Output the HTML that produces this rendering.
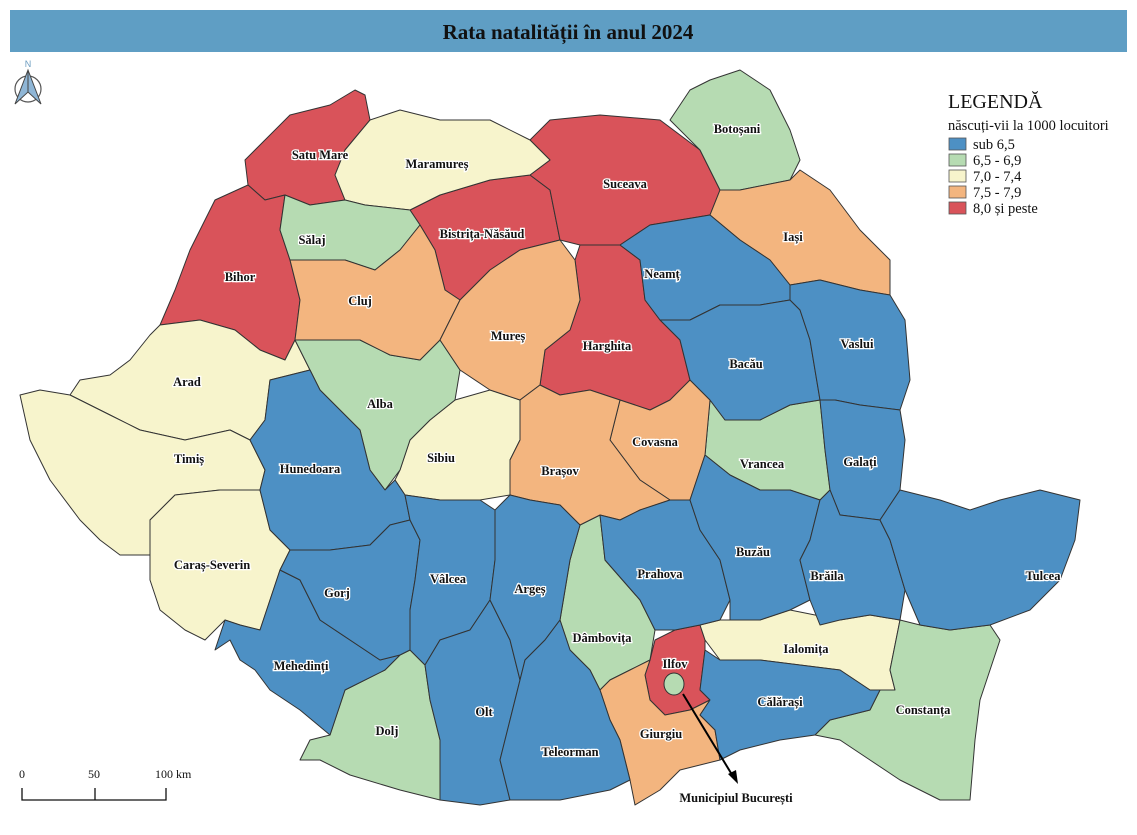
<!DOCTYPE html>
<html><head><meta charset="utf-8"><style>
body{margin:0;background:#fff;width:1137px;height:830px;overflow:hidden;font-family:"Liberation Serif",serif}
</style></head><body>
<svg width="1137" height="830" viewBox="0 0 1137 830" xmlns="http://www.w3.org/2000/svg" font-family="Liberation Serif, serif">
<rect x="10" y="10" width="1117" height="42" fill="#5f9ec4"/>
<text x="568" y="39" text-anchor="middle" font-size="21" font-weight="bold" fill="#111">Rata natalității în anul 2024</text>
<g stroke="#333" stroke-width="1" stroke-linejoin="round">
<g fill="#d9535a">
<polygon points="245,160 290,115 330,105 355,90 365,95 370,120 345,150 335,175 345,200 310,205 285,195 265,200 248,185"/>
<polygon points="248,185 265,200 285,195 280,230 290,260 300,300 295,340 285,360 260,350 235,330 200,320 160,325 175,290 190,250 215,200"/>
<polygon points="410,210 440,195 490,180 530,175 550,190 560,240 520,250 490,270 460,300 445,290 435,250 420,225"/>
<polygon points="530,140 550,120 600,115 660,120 700,150 720,190 710,215 650,225 620,245 580,245 560,240 550,190 530,175 550,160"/>
<polygon points="575,260 580,245 620,245 640,260 645,300 660,320 680,340 690,380 670,400 650,410 620,400 590,390 560,395 540,385 545,350 570,330 580,300"/>
<polygon points="655,640 675,630 700,625 705,640 705,650 700,690 710,700 690,710 665,715 650,700 645,675 650,660"/>
</g>
<g fill="#f7f4cc">
<polygon points="370,120 400,110 440,120 490,120 530,140 550,160 530,175 490,180 440,195 410,210 365,205 345,200 335,175 345,150"/>
<polygon points="455,400 490,390 520,400 520,440 510,460 510,495 480,500 440,500 405,495 395,480 400,470 410,440 430,420"/>
<polygon points="160,325 200,320 235,330 260,350 285,360 295,340 310,370 270,380 265,420 250,440 230,430 185,440 140,430 110,415 70,395 80,380 110,375 130,360 150,335"/>
<polygon points="20,395 40,390 70,395 110,415 140,430 185,440 230,430 250,440 265,470 260,490 220,490 175,495 150,520 150,555 120,555 100,540 80,520 50,480 30,440"/>
<polygon points="150,520 175,495 220,490 260,490 265,510 270,530 280,540 290,550 280,570 270,600 260,630 240,625 225,620 205,640 185,630 160,610 150,580"/>
<polygon points="700,625 720,620 760,620 790,610 840,620 870,615 900,620 890,670 895,690 870,690 840,670 800,665 760,660 720,660 705,640"/>
</g>
<g fill="#b6dbb2">
<polygon points="285,195 310,205 345,200 365,205 410,210 420,225 400,250 375,270 345,260 300,260 290,260 280,230"/>
<polygon points="670,120 690,90 710,80 740,70 770,90 790,130 800,160 790,180 740,190 720,190 700,150"/>
<polygon points="710,400 725,420 760,420 790,405 820,400 825,450 830,490 820,500 790,490 760,490 730,475 705,455"/>
<polygon points="295,340 335,340 360,340 390,355 420,360 440,340 460,370 455,400 430,420 410,440 400,470 385,490 370,470 360,430 340,410 320,390 310,370"/>
<polygon points="330,735 345,690 385,670 400,655 410,650 425,665 430,700 440,740 440,800 420,795 400,790 350,775 320,760 300,760 310,740"/>
<polygon points="580,525 600,515 605,560 640,600 655,630 650,660 630,670 610,680 600,690 590,670 570,650 560,620 565,590 570,560"/>
<polygon points="900,620 920,625 950,630 990,625 1000,640 990,670 980,700 975,740 970,800 940,800 900,780 870,760 840,740 815,735 830,720 870,710 880,690 895,690 890,670"/>
<ellipse cx="674" cy="684" rx="10" ry="11"/>
</g>
<g fill="#f3b57f">
<polygon points="720,190 740,190 790,180 800,170 830,190 860,230 890,260 890,295 860,290 820,280 790,285 770,260 740,240 710,215"/>
<polygon points="300,260 345,260 375,270 400,250 420,225 435,250 445,290 460,300 440,340 420,360 390,355 360,340 335,340 295,340 300,300 290,260"/>
<polygon points="460,300 490,270 520,250 560,240 575,260 580,300 570,330 545,350 540,385 520,400 490,390 460,370 440,340"/>
<polygon points="650,410 670,400 690,380 710,400 705,455 700,470 690,500 670,500 640,480 610,440 620,400"/>
<polygon points="520,400 540,385 560,395 590,390 620,400 610,440 640,480 670,500 640,510 620,520 600,515 580,525 560,505 530,500 510,495 510,460 520,440"/>
<polygon points="610,680 630,670 650,660 645,675 650,700 665,715 690,710 710,700 700,715 715,730 720,760 680,770 660,790 635,805 630,780 620,740 610,720 600,690"/>
</g>
<g fill="#4d90c4">
<polygon points="620,245 650,225 710,215 740,240 770,260 790,285 790,300 760,305 720,305 690,320 660,320 645,300 640,260"/>
<polygon points="660,320 690,320 720,305 760,305 790,300 800,310 810,340 820,400 790,405 760,420 725,420 710,400 690,380 680,340"/>
<polygon points="790,285 820,280 860,290 890,295 905,320 910,380 900,410 860,405 835,400 820,400 810,340 800,310 790,300"/>
<polygon points="820,400 835,400 860,405 900,410 905,440 900,490 880,520 840,515 830,490 825,450"/>
<polygon points="270,380 310,370 320,390 340,410 360,430 370,470 385,490 395,480 405,495 410,520 390,525 370,545 330,550 290,550 280,540 270,530 265,510 260,490 265,470 250,440 265,420"/>
<polygon points="260,630 270,600 280,570 300,580 320,620 350,640 380,660 400,655 385,670 345,690 330,735 300,710 270,690 255,670 240,660 230,640 215,650 225,620 240,625"/>
<polygon points="290,550 330,550 370,545 390,525 410,520 420,540 415,580 410,610 410,650 400,655 380,660 350,640 320,620 300,580 280,570"/>
<polygon points="410,520 405,495 440,500 480,500 495,510 495,560 490,600 470,630 440,640 425,665 410,650 410,610 415,580 420,540"/>
<polygon points="425,665 440,640 470,630 490,600 510,640 520,680 510,720 500,760 510,800 480,805 440,800 440,740 430,700"/>
<polygon points="495,510 510,495 530,500 560,505 580,525 570,560 565,590 560,620 545,640 525,660 520,680 510,640 490,600 495,560"/>
<polygon points="520,680 525,660 545,640 560,620 570,650 590,670 600,690 610,720 620,740 630,780 610,790 560,800 510,800 500,760 510,720"/>
<polygon points="600,515 620,520 640,510 670,500 690,500 700,530 720,560 730,600 720,620 700,625 675,630 655,630 640,600 605,560"/>
<polygon points="690,500 700,470 705,455 730,475 760,490 790,490 820,500 810,540 800,560 810,600 790,610 760,620 730,620 730,600 720,560 700,530"/>
<polygon points="820,500 830,490 840,515 880,520 890,540 905,590 900,620 870,615 840,620 820,625 810,600 800,560 810,540"/>
<polygon points="880,520 900,490 940,500 970,510 1000,500 1040,490 1080,500 1075,540 1060,580 1030,610 990,625 950,630 920,625 905,590 890,540"/>
<polygon points="705,650 720,660 760,660 800,665 840,670 870,690 880,690 870,710 830,720 815,735 780,740 740,750 720,760 715,730 700,715 710,700 700,690"/>
</g>
</g>
<g font-size="12.5" font-weight="bold" fill="#111" text-anchor="middle" stroke="#fff" stroke-width="2.5" paint-order="stroke">
<text x="320" y="159">Satu Mare</text><text x="437" y="168">Maramureș</text><text x="737" y="133">Botoșani</text>
<text x="625" y="188">Suceava</text><text x="312" y="244">Sălaj</text><text x="482" y="238">Bistrița-Năsăud</text>
<text x="793" y="241">Iași</text><text x="240" y="281">Bihor</text><text x="360" y="305">Cluj</text>
<text x="662" y="278">Neamț</text><text x="508" y="340">Mureș</text><text x="607" y="350">Harghita</text>
<text x="857" y="348">Vaslui</text><text x="746" y="368">Bacău</text><text x="187" y="386">Arad</text>
<text x="380" y="408">Alba</text><text x="655" y="446">Covasna</text><text x="441" y="462">Sibiu</text>
<text x="189" y="463">Timiș</text><text x="310" y="473">Hunedoara</text><text x="762" y="468">Vrancea</text>
<text x="860" y="466">Galați</text><text x="560" y="475">Brașov</text><text x="753" y="556">Buzău</text>
<text x="212" y="569">Caraș-Severin</text><text x="660" y="578">Prahova</text><text x="1043" y="580">Tulcea</text>
<text x="827" y="580">Brăila</text><text x="530" y="593">Argeș</text><text x="337" y="597">Gorj</text>
<text x="448" y="583">Vâlcea</text><text x="602" y="642">Dâmbovița</text><text x="806" y="653">Ialomița</text>
<text x="675" y="668">Ilfov</text><text x="301" y="670">Mehedinți</text><text x="780" y="706">Călărași</text>
<text x="923" y="714">Constanța</text><text x="484" y="716">Olt</text><text x="387" y="735">Dolj</text>
<text x="661" y="738">Giurgiu</text><text x="570" y="756">Teleorman</text>
<text x="736" y="802">Municipiul București</text>
</g>
<line x1="683" y1="694" x2="734" y2="778" stroke="#000" stroke-width="2"/>
<polygon points="738,784 728,774 736,770" fill="#000"/>
<text x="948" y="108" font-size="20" fill="#111">LEGENDĂ</text>
<text x="948" y="130" font-size="14.5" fill="#111">născuți-vii la 1000 locuitori</text>
<g stroke="#555" stroke-width="0.8">
<rect x="949" y="138" width="17" height="12" fill="#4d90c4"/>
<rect x="949" y="154" width="17" height="12" fill="#b6dbb2"/>
<rect x="949" y="170" width="17" height="12" fill="#f7f4cc"/>
<rect x="949" y="186" width="17" height="12" fill="#f3b57f"/>
<rect x="949" y="202" width="17" height="12" fill="#d9535a"/>
</g>
<g font-size="14.5" fill="#111">
<text x="973" y="149">sub 6,5</text><text x="973" y="165">6,5 - 6,9</text><text x="973" y="181">7,0 - 7,4</text>
<text x="973" y="197">7,5 - 7,9</text><text x="973" y="213">8,0 și peste</text>
</g>
<g font-size="12" fill="#111">
<text x="19" y="778">0</text><text x="88" y="778">50</text><text x="155" y="778">100 km</text>
</g>
<polyline points="22,788 22,800 95,800 95,788 95,800 166,800 166,788" fill="none" stroke="#111" stroke-width="1.3"/>
<circle cx="28" cy="89" r="13" fill="none" stroke="#555" stroke-width="1.2"/>
<polygon points="28,70 15,104 28,92 41,104" fill="#8fb6d6" stroke="#444" stroke-width="1"/>
<line x1="28" y1="70" x2="28" y2="92" stroke="#444"/>
<text x="28" y="67" font-size="9" fill="#6a9bbf" text-anchor="middle" font-family="Liberation Sans, sans-serif">N</text>
</svg>
</body></html>
